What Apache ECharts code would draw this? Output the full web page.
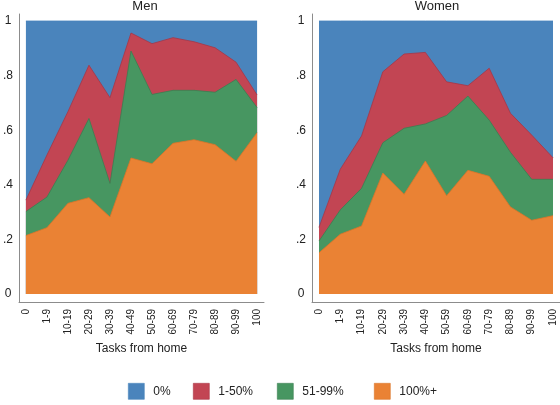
<!DOCTYPE html>
<html><head><meta charset="utf-8">
<script src="https://cdn.jsdelivr.net/npm/echarts@6/dist/echarts.min.js"></script>
<style>html,body{margin:0;padding:0;background:#fff}#c{width:560px;height:405px}</style>
</head><body><div id="c"></div>
<script>
const categories = ['0','1-9','10-19','20-29','30-39','40-49','50-59','60-69','70-79','80-89','90-99','100'];
const yTicks = [0, 0.2, 0.4, 0.6, 0.8, 1];
const yTickLabels = ['0', '.2', '.4', '.6', '.8', '1'];
const seriesNames = ['0%', '1-50%', '51-99%', '100%+'];
const panelTitles = ['Men', 'Women'];
const xTitle = 'Tasks from home';

// shares (each series is a share; stacked they sum to 1)
const men100 = [0.214,0.243,0.332,0.353,0.282,0.498,0.477,0.552,0.565,0.547,0.486,0.591];
const men51  = [0.088,0.112,0.158,0.290,0.123,0.392,0.254,0.194,0.181,0.192,0.300,0.092];
const men1   = [0.042,0.154,0.178,0.195,0.314,0.066,0.186,0.193,0.178,0.163,0.063,0.046];
const men0   = [0.656,0.491,0.332,0.162,0.281,0.044,0.083,0.061,0.076,0.098,0.151,0.271];

const women100 = [0.151,0.219,0.249,0.443,0.365,0.487,0.360,0.453,0.431,0.319,0.270,0.287];
const women51  = [0.043,0.089,0.138,0.111,0.242,0.136,0.294,0.272,0.206,0.200,0.150,0.133];
const women1   = [0.050,0.149,0.192,0.260,0.272,0.262,0.123,0.038,0.190,0.143,0.162,0.079];
const women0   = [0.756,0.543,0.421,0.186,0.121,0.115,0.223,0.237,0.173,0.338,0.418,0.501];

const fills = {'0%':'#4a84bc','1-50%':'#c24553','51-99%':'#479661','100%+':'#ea8234'};
const lines = {'0%':'#4a84bc','1-50%':'#a83545','51-99%':'#3a7f50','100%+':'#dc7428'};
const FONT = 'Liberation Sans, Arial, Helvetica, sans-serif';

const panels = [
  {name:'men', data:{'100%+':men100,'51-99%':men51,'1-50%':men1,'0%':men0}},
  {name:'women', data:{'100%+':women100,'51-99%':women51,'1-50%':women1,'0%':women0}}
];
const stackOrder = ['100%+','51-99%','1-50%','0%'];

const grids = [
  {left:16, top:14, width:248, height:288},
  {left:312, top:14, width:248, height:288}
];
const xAxes = [], yAxes = [], series = [];
panels.forEach((p, gi) => {
  xAxes.push({
    type:'value', gridIndex:gi, min:-0.329, max:11.329,
    axisLine:{show:true, onZero:false, lineStyle:{color:'#8c8c8c', width:1}},
    axisTick:{show:false},
    splitLine:{show:false},
    axisLabel:{customValues:categories.map((c,i)=>i), rotate:90, margin:7, fontSize:10,
      color:'#222', fontFamily:FONT, formatter:v=>categories[Math.round(v)]},
    name:xTitle, nameLocation:'middle', nameGap:40,
    nameTextStyle:{fontSize:12, color:'#222', fontFamily:FONT}
  });
  yAxes.push({
    type:'value', gridIndex:gi, min:-0.0293, max:1.0256,
    axisLine:{show:true, onZero:false, lineStyle:{color:'#8c8c8c', width:1}},
    axisTick:{show:false},
    splitLine:{show:false},
    axisLabel:{customValues:yTicks, align:'center', margin:11, fontSize:12, color:'#222',
      fontFamily:FONT, formatter:v=>yTickLabels[yTicks.findIndex(t=>Math.abs(t-v)<1e-6)]}
  });
  // cumulative tops, drawn top layer last (areas filled from 0)
  const cum = categories.map(() => 0);
  const tops = {};
  stackOrder.forEach(nm => {
    p.data[nm].forEach((v,i) => { cum[i] += v; });
    tops[nm] = cum.slice();
  });
  stackOrder.slice().reverse().forEach((nm, k) => {
    series.push({
      name:nm, type:'line', xAxisIndex:gi, yAxisIndex:gi, z:2+k,
      data:tops[nm].map((v,i)=>[i, nm === '0%' ? Math.min(v, 1) : v]),
      symbol:'none', smooth:false,
      lineStyle:{color:lines[nm], width:0.8},
      itemStyle:{color:fills[nm]},
      areaStyle:{color:fills[nm], opacity:1, origin:0},
      emphasis:{disabled:true}, animation:false
    });
  });
});

const legendPos = [123, 188, 272, 369];
const legends = seriesNames.map((nm, i) => ({
  data:[nm], left:legendPos[i], top:378, icon:'rect', itemWidth:16, itemHeight:16,
  itemStyle:{borderColor:lines[nm], borderWidth:0.6},
  textStyle:{fontSize:12, color:'#222', fontFamily:FONT, padding:[0,0,0,4]},
  selectedMode:false
}));

const chart = echarts.init(document.getElementById('c'), null, {renderer:'canvas'});
chart.setOption({
  animation:false,
  title:[
    {text:panelTitles[0], left:140, top:-5, textAlign:'center', textStyle:{fontSize:13, fontWeight:'normal', color:'#222', fontFamily:FONT}},
    {text:panelTitles[1], left:432, top:-5, textAlign:'center', textStyle:{fontSize:13, fontWeight:'normal', color:'#222', fontFamily:FONT}}
  ],
  grid:grids, xAxis:xAxes, yAxis:yAxes, series:series, legend:legends
});
</script></body></html>
